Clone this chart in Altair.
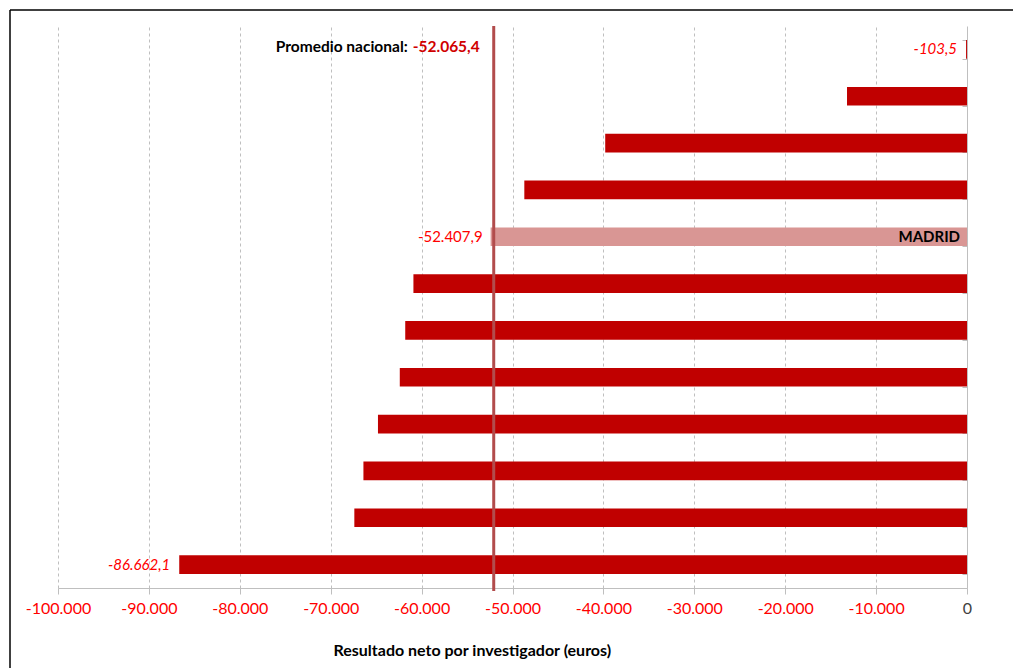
import altair as alt
import pandas as pd

# ---- data ----
categories = ["R01", "R02", "R03", "R04", "MADRID", "R06",
              "R07", "R08", "R09", "R10", "R11", "R12"]
values = [-103.5, -13200, -39800, -48700, -52407.9, -60900,
          -61800, -62400, -64800, -66400, -67400, -86662.1]
highlight = ["MADRID"]
labelled = ["R01", "MADRID", "R12"]
national_avg = -52065.4
x_ticks = list(range(-100000, 1, 10000))
avg_caption = "Promedio nacional:"
x_title = "Resultado neto por investigador (euros)"

FONT = "Lato"
RED = "#FF0000"
BAR = "#C00000"
BAR_HI = "#D99694"
AVG = "#B24C4C"
GREY = "#BFBFBF"

W, H = 909, 562
PAD = {"left": 58, "top": 26, "right": 46, "bottom": 80}


def es(v, dec=1):
    s = f"{v:,.{dec}f}"
    return s.replace(",", "X").replace(".", ",").replace("X", ".")


df = pd.DataFrame({
    "cat": categories,
    "value": values,
    "color": [BAR_HI if c in highlight else BAR for c in categories],
})
df["label"] = [es(v) for v in values]

lab_it = df[df["cat"].isin(labelled) & ~df["cat"].isin(highlight)]
lab_hi = df[df["cat"].isin(highlight)]
avg_df = pd.DataFrame({"avg": [national_avg], "txt": [es(national_avg)],
                       "cap": [avg_caption], "cat": [categories[0]]})

y_enc = alt.Y(
    "cat:N", sort=categories,
    scale=alt.Scale(paddingInner=0.6),
    axis=alt.Axis(orient="left", offset=-W, labels=False, title=None,
                  tickBand="extent", tickSize=5, tickColor=GREY,
                  domainColor=GREY, grid=False),
)
x_scale = alt.Scale(domain=[-100000, 0], nice=False)

bars = alt.Chart(df).mark_bar().encode(
    x=alt.X("value:Q", scale=x_scale,
            axis=alt.Axis(values=x_ticks, grid=True, gridDash=[3, 3],
                          gridColor=GREY, domainColor=GREY, tickColor=GREY,
                          tickSize=6, labelPadding=6, labelFontSize=16,
                          labelFont=FONT, labelOverlap=False, labelFlush=False,
                          labelColor={"condition": {"test": "datum.value === 0", "value": "#404040"},
                                      "value": RED},
                          labelExpr="replace(replace(format(datum.value, ',d'), /,/g, '.'), '\u2212', '-')",
                          title=x_title, titleFont=FONT, titleFontSize=16,
                          titleFontWeight="bold", titleColor="#000000",
                          titleX=275, titleAlign="left", titleY=54)),
    y=y_enc,
    color=alt.Color("color:N", scale=None),
)

val_it = alt.Chart(lab_it).mark_text(
    align="right", baseline="middle", dx=-9, font=FONT, fontSize=15,
    fontStyle="italic", color=RED
).encode(x=alt.X("value:Q", scale=x_scale), y=y_enc, text="label:N")

val_hi = alt.Chart(lab_hi).mark_text(
    align="right", baseline="middle", dx=-8, font=FONT, fontSize=15, color=RED
).encode(x=alt.X("value:Q", scale=x_scale), y=y_enc, text="label:N")

name_hi = alt.Chart(lab_hi).mark_text(
    align="right", baseline="middle", dx=-7, font=FONT, fontSize=15,
    fontWeight="bold", color="#000000"
).encode(x=alt.datum(0, scale=x_scale), y=y_enc, text="cat:N")

avg_rule = alt.Chart(avg_df).mark_rule(color=AVG, strokeWidth=3).encode(
    x=alt.X("avg:Q", scale=x_scale), y=alt.value(0), y2=alt.value(H + 3)
)

avg_val = alt.Chart(avg_df).mark_text(
    align="right", baseline="middle", dx=-14, dy=-2, font=FONT, fontSize=15.5,
    fontWeight="bold", color="#D00000"
).encode(x=alt.X("avg:Q", scale=x_scale), y=y_enc, text="txt:N")

avg_cap = alt.Chart(avg_df).mark_text(
    align="right", baseline="middle", dx=-86, dy=-2, font=FONT, fontSize=15.5,
    fontWeight="bold", color="#000000"
).encode(x=alt.X("avg:Q", scale=x_scale), y=y_enc, text="cap:N")

frame_top = alt.Chart(avg_df).mark_rule(color="#000000", strokeWidth=1.5).encode(
    x=alt.value(-48), x2=alt.value(W + 60), y=alt.value(-16)
)
frame_left = alt.Chart(avg_df).mark_rule(color="#000000", strokeWidth=1.5).encode(
    x=alt.value(-48), y=alt.value(-16), y2=alt.value(H + 100)
)

chart = alt.layer(
    bars, avg_rule, val_it, val_hi, name_hi, avg_val, avg_cap, frame_top, frame_left
).properties(
    width=W, height=H, padding=PAD, autosize=alt.AutoSizeParams(type="none"),
    background="#FFFFFF"
).configure_view(stroke=None)

chart.save("out.html", embed_options={"renderer": "svg", "actions": False})
